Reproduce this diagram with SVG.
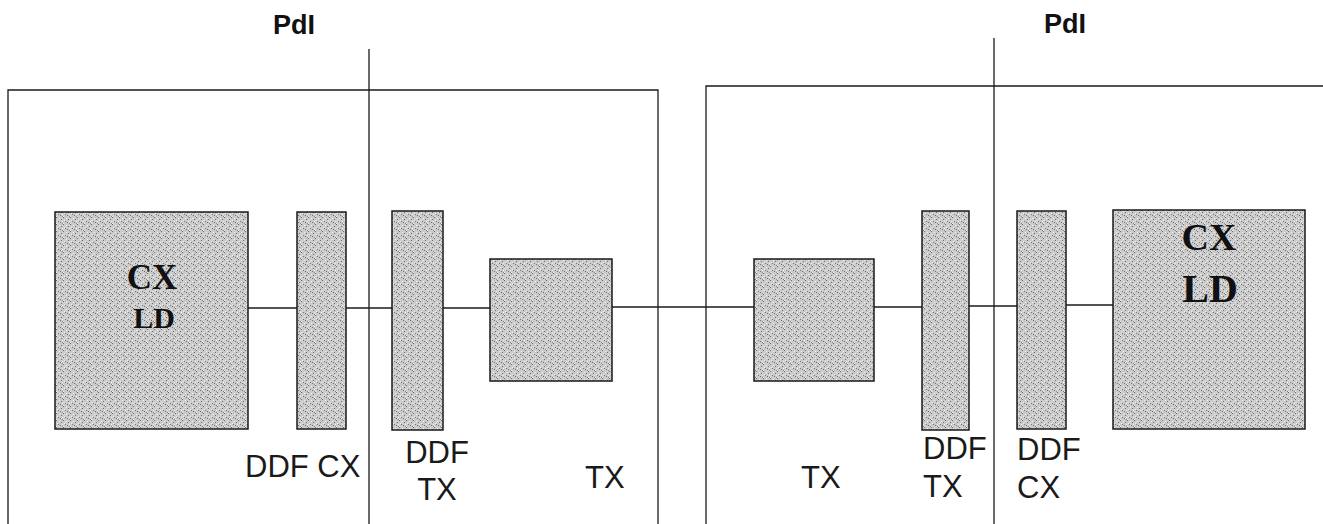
<svg xmlns="http://www.w3.org/2000/svg" width="1323" height="524" viewBox="0 0 1323 524">
  <style>
    .frame { fill: none; stroke: #1a1a1a; stroke-width: 1.3; }
    .conn { fill: none; stroke: #1a1a1a; stroke-width: 1.3; }
    .box { fill: url(#stipple); stroke: #1a1a1a; stroke-width: 1.5; }
    .lbl { font-family: "Liberation Sans", Arial, sans-serif; font-size: 31px; fill: #1a1a1a; }
    .pdi { font-family: "Liberation Sans", Arial, sans-serif; font-size: 27px; font-weight: bold; fill: #111; text-anchor: middle; }
    .cx { font-family: "Liberation Serif", "Times New Roman", serif; font-weight: bold; fill: #111; text-anchor: middle; }
  </style>
  <defs>
    <pattern id="stipple" width="7" height="7" patternUnits="userSpaceOnUse">
      <rect width="7" height="7" fill="#cbcbcb"/>
      <rect x="0" y="0" width="1" height="1" fill="#6a6a6a"/>
      <rect x="3" y="1" width="1" height="1" fill="#f2f2f2"/>
      <rect x="5" y="2" width="1" height="1" fill="#707070"/>
      <rect x="1" y="3" width="1" height="1" fill="#eeeeee"/>
      <rect x="2" y="4" width="1" height="1" fill="#777777"/>
      <rect x="6" y="4" width="1" height="1" fill="#f0f0f0"/>
      <rect x="4" y="5" width="1" height="1" fill="#6e6e6e"/>
      <rect x="0" y="6" width="1" height="1" fill="#efefef"/>
      <rect x="6" y="6" width="1" height="1" fill="#858585"/>
    </pattern>
  </defs>
  <rect width="1323" height="524" fill="#ffffff"/>

  <g id="frames">
    <path class="frame" d="M8,524 V90 H658 V524"/>
    <path class="frame" d="M706,524 V86 H1323"/>
    <line class="frame" x1="369" y1="49" x2="369" y2="524"/>
    <line class="frame" x1="994" y1="38" x2="994" y2="524"/>
    <text class="pdi" x="294" y="34">PdI</text>
    <text class="pdi" x="1065" y="33">PdI</text>
  </g>

  <g id="connectors">
    <line class="conn" x1="248" y1="308" x2="297" y2="308"/>
    <line class="conn" x1="346" y1="308" x2="392" y2="308"/>
    <line class="conn" x1="443" y1="308" x2="490" y2="308"/>
    <line class="conn" x1="612" y1="307" x2="754" y2="307"/>
    <line class="conn" x1="874" y1="307" x2="922" y2="307"/>
    <line class="conn" x1="969" y1="306" x2="1017" y2="306"/>
    <line class="conn" x1="1066" y1="305" x2="1113" y2="305"/>
  </g>

  <g id="cxld-left">
    <rect class="box" x="55" y="212" width="193" height="217"/>
    <text class="cx" x="152" y="289" font-size="35">CX</text>
    <text class="cx" x="154" y="328" font-size="30">LD</text>
  </g>

  <g id="ddfcx-left">
    <rect class="box" x="297" y="212" width="49" height="217"/>
    <text class="lbl" x="245" y="477">DDF CX</text>
  </g>

  <g id="ddftx-left">
    <rect class="box" x="392" y="211" width="51" height="219"/>
    <text class="lbl" x="437" y="463" text-anchor="middle">DDF</text>
    <text class="lbl" x="437" y="500" text-anchor="middle">TX</text>
  </g>

  <g id="tx-left">
    <rect class="box" x="490" y="259" width="122" height="122"/>
    <text class="lbl" x="585" y="488">TX</text>
  </g>

  <g id="tx-right">
    <rect class="box" x="754" y="259" width="120" height="122"/>
    <text class="lbl" x="801" y="488">TX</text>
  </g>

  <g id="ddftx-right">
    <rect class="box" x="922" y="211" width="47" height="219"/>
    <text class="lbl" x="923" y="459">DDF</text>
    <text class="lbl" x="923" y="497">TX</text>
  </g>

  <g id="ddfcx-right">
    <rect class="box" x="1017" y="211" width="49" height="218"/>
    <text class="lbl" x="1017" y="460">DDF</text>
    <text class="lbl" x="1017" y="498">CX</text>
  </g>

  <g id="cxld-right">
    <rect class="box" x="1113" y="210" width="192" height="219"/>
    <text class="cx" x="1209" y="250" font-size="38">CX</text>
    <text class="cx" x="1210" y="302" font-size="40">LD</text>
  </g>
</svg>
